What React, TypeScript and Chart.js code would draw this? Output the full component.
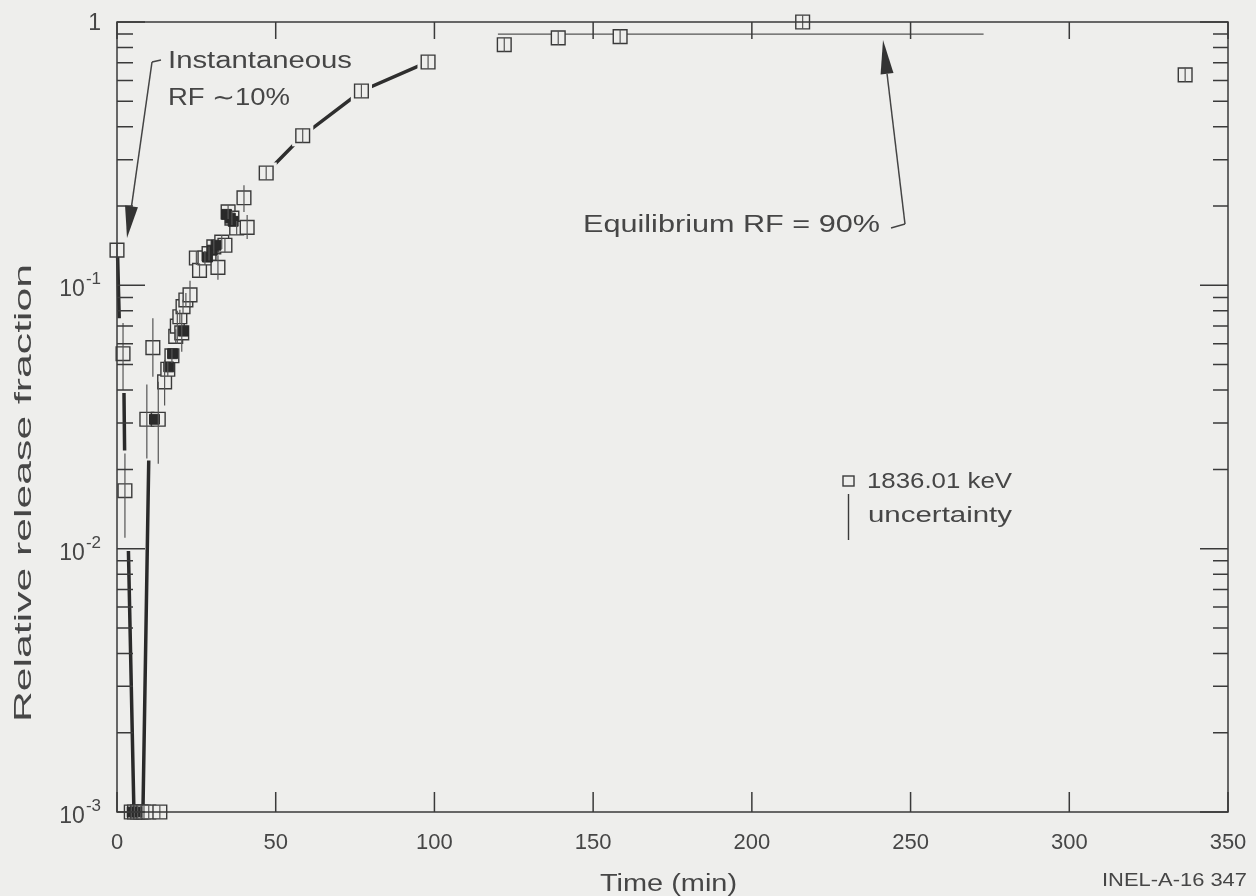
import React, { useEffect, useRef } from 'react';
import { Chart, registerables } from 'chart.js';
Chart.register(...registerables);

// ---- data ----
const xTickValues = [0, 50, 100, 150, 200, 250, 300, 350];
const yDecades = [0.001, 0.01, 0.1, 1];
const yTickBase = ['10', '10', '10', '1'];
const yTickExp = ['-3', '-2', '-1', ''];

// measured points (1836.01 keV), time in min, relative release fraction
const sqT = [0, 1.9, 2.5, 4.5, 5.5, 6.5, 7.5, 8.5, 10, 13.5, 9.4, 11.3, 13, 15, 16, 17.3, 18.5, 19, 19.8, 20.4, 20.8, 21.7, 23, 25, 26, 27.7, 29, 30.5, 31.8, 33, 34, 35, 36.2, 37.7, 40, 41, 47, 58.5, 77, 98, 122, 139, 158.5, 216, 336.5];
const sqV = [0.136, 0.055, 0.0166, 0.001, 0.001, 0.001, 0.001, 0.001, 0.001, 0.001, 0.031, 0.058, 0.031, 0.043, 0.048, 0.054, 0.064, 0.07, 0.076, 0.066, 0.083, 0.088, 0.092, 0.127, 0.114, 0.127, 0.132, 0.14, 0.117, 0.146, 0.142, 0.19, 0.18, 0.165, 0.215, 0.166, 0.267, 0.37, 0.547, 0.705, 0.82, 0.87, 0.88, 1.0, 0.63];
const sqLo = [null, 0.04, 0.011, null, null, null, null, null, null, null, 0.022, 0.045, 0.021, 0.035, null, null, null, 0.06, null, 0.056, null, null, 0.082, null, null, null, null, null, 0.105, null, null, null, null, null, 0.19, 0.15, null, null, null, null, null, null, null, null, null];
const sqHi = [null, 0.072, 0.023, null, null, null, null, null, null, null, 0.042, 0.075, 0.043, 0.052, null, null, null, 0.08, null, 0.078, null, null, 0.104, null, null, null, null, null, 0.13, null, null, null, null, null, 0.24, 0.185, null, null, null, null, null, null, null, null, null];

// overlapping (dark) clusters of points
const blobT = [4.8, 6.2, 11.8, 16.3, 17.5, 20.9, 28.5, 30, 31.2, 34.5, 35.7, 36.6];
const blobV = [0.001, 0.001, 0.031, 0.049, 0.055, 0.067, 0.128, 0.136, 0.142, 0.186, 0.18, 0.175];

// heavy early trace segments (gaps = null)
const curveT = [0.2, 0.7, 1.2, 2.2, 2.4, 3, 3.6, 5.3, 6.5, 8.2, 10];
const curveV = [0.128, 0.075, null, 0.039, 0.0236, null, 0.0098, 0.00105, null, 0.00105, 0.0216];

// fitted rise
const fitT = [47, 58.5, 77, 98];
const fitV = [0.267, 0.37, 0.547, 0.705];

// equilibrium RF line
const eqT = [120, 273];
const eqV = [0.9, 0.9];

const BG = '#eeeeec';
const INK = '#3a3a3a';
const TXT = '#464646';
const FONT = '"Liberation Sans", Arial, Helvetica, sans-serif';

function pts(xs: number[], ys: (number | null)[]) {
  return xs.map((x, i) => ({ x, y: ys[i] }));
}

function stretchText(ctx: CanvasRenderingContext2D, text: string, x: number, y: number, size: number, width?: number) {
  ctx.save();
  ctx.font = `${size}px ${FONT}`;
  ctx.textAlign = 'left';
  ctx.textBaseline = 'alphabetic';
  const w = ctx.measureText(text).width;
  const sx = width ? width / w : 1;
  ctx.translate(x, y);
  ctx.scale(sx, 1);
  ctx.fillText(text, 0, 0);
  ctx.restore();
}

function arrow(ctx: CanvasRenderingContext2D, x1: number, y1: number, x2: number, y2: number, hl: number, hw: number) {
  const dx = x2 - x1, dy = y2 - y1;
  const L = Math.hypot(dx, dy);
  const ux = dx / L, uy = dy / L;
  const bx = x2 - ux * hl, by = y2 - uy * hl;
  ctx.beginPath();
  ctx.moveTo(x1, y1);
  ctx.lineTo(bx, by);
  ctx.stroke();
  ctx.beginPath();
  ctx.moveTo(x2, y2);
  ctx.lineTo(bx - uy * hw, by + ux * hw);
  ctx.lineTo(bx + uy * hw, by - ux * hw);
  ctx.closePath();
  ctx.fill();
}

const decorPlugin = {
  id: 'decor',
  beforeDraw(chart: any) {
    const ctx = chart.ctx;
    ctx.save();
    ctx.fillStyle = BG;
    ctx.fillRect(0, 0, chart.width, chart.height);
    ctx.restore();
  },
  afterDatasetsDraw(chart: any) {
    const ctx: CanvasRenderingContext2D = chart.ctx;
    const xs = chart.scales.x, ys = chart.scales.y;
    const a = chart.chartArea;
    ctx.save();

    // error bars / square centre lines
    ctx.strokeStyle = '#555';
    ctx.lineWidth = 1.2;
    for (let i = 0; i < sqT.length; i++) {
      const px = xs.getPixelForValue(sqT[i]);
      const py = ys.getPixelForValue(sqV[i]);
      let top = py - 7, bot = py + 7;
      if (sqHi[i] != null) top = Math.min(top, ys.getPixelForValue(sqHi[i] as number));
      if (sqLo[i] != null) bot = Math.max(bot, ys.getPixelForValue(sqLo[i] as number));
      ctx.beginPath();
      ctx.moveTo(px, top);
      ctx.lineTo(px, bot);
      ctx.stroke();
    }

    // frame
    ctx.strokeStyle = INK;
    ctx.lineWidth = 1.5;
    ctx.strokeRect(a.left, a.top, a.right - a.left, a.bottom - a.top);

    // x ticks (inward, bottom and top)
    for (const v of xTickValues) {
      const px = xs.getPixelForValue(v);
      ctx.beginPath();
      ctx.moveTo(px, a.bottom);
      ctx.lineTo(px, a.bottom - 20);
      ctx.moveTo(px, a.top);
      ctx.lineTo(px, a.top + 17);
      ctx.stroke();
    }
    // y ticks (inward, left and right)
    for (let d = 0; d < yDecades.length; d++) {
      const dec = yDecades[d];
      const py = ys.getPixelForValue(dec);
      ctx.beginPath();
      ctx.moveTo(a.left, py);
      ctx.lineTo(a.left + 28, py);
      ctx.moveTo(a.right, py);
      ctx.lineTo(a.right - 28, py);
      ctx.stroke();
      if (d < yDecades.length - 1) {
        for (let m = 2; m <= 9; m++) {
          const pm = ys.getPixelForValue(dec * m);
          ctx.beginPath();
          ctx.moveTo(a.left, pm);
          ctx.lineTo(a.left + 16, pm);
          ctx.moveTo(a.right, pm);
          ctx.lineTo(a.right - 15, pm);
          ctx.stroke();
        }
      }
    }

    // y tick labels with superscripts
    ctx.fillStyle = TXT;
    for (let d = 0; d < yDecades.length; d++) {
      const py = ys.getPixelForValue(yDecades[d]);
      const right = a.left - 16;
      ctx.textBaseline = 'alphabetic';
      if (yTickExp[d]) {
        ctx.font = `17px ${FONT}`;
        ctx.textAlign = 'right';
        ctx.fillText(yTickExp[d], right, py - 1);
        const ew = ctx.measureText(yTickExp[d]).width;
        ctx.font = `23px ${FONT}`;
        ctx.fillText(yTickBase[d], right - ew - 1, py + 11);
      } else {
        ctx.font = `23px ${FONT}`;
        ctx.textAlign = 'right';
        ctx.fillText(yTickBase[d], right, py + 8);
      }
    }

    // axis titles
    stretchText(ctx, 'Time (min)', 600, 891, 23, 137);
    ctx.save();
    ctx.translate(31, 722);
    ctx.rotate(-Math.PI / 2);
    stretchText(ctx, 'Relative release fraction', 0, 0, 24, 458);
    ctx.restore();
    stretchText(ctx, 'INEL-A-16 347', 1102, 886, 19, 145);

    // annotations
    stretchText(ctx, 'Instantaneous', 168, 68, 23, 184);
    stretchText(ctx, 'RF \u223C10%', 168, 105, 23, 122);
    stretchText(ctx, 'Equilibrium RF = 90%', 583, 232, 23, 297);

    ctx.strokeStyle = '#444';
    ctx.fillStyle = '#333';
    ctx.lineWidth = 1.5;
    ctx.beginPath();
    ctx.moveTo(161, 60);
    ctx.lineTo(152, 62);
    ctx.stroke();
    arrow(ctx, 152, 62, 127, 238, 32, 6.5);
    ctx.beginPath();
    ctx.moveTo(891, 228);
    ctx.lineTo(905, 224);
    ctx.stroke();
    arrow(ctx, 905, 224, 883, 40, 34, 6.5);

    // legend
    ctx.strokeStyle = INK;
    ctx.lineWidth = 1.4;
    ctx.fillStyle = BG;
    ctx.fillRect(843, 476, 11, 10);
    ctx.strokeRect(843, 476, 11, 10);
    ctx.beginPath();
    ctx.moveTo(848.5, 494);
    ctx.lineTo(848.5, 540);
    ctx.stroke();
    ctx.fillStyle = TXT;
    stretchText(ctx, '1836.01 keV', 867, 488, 22, 145);
    stretchText(ctx, 'uncertainty', 868, 522, 22, 144);

    ctx.restore();
  },
};

export default function App() {
  const ref = useRef<HTMLCanvasElement | null>(null);
  useEffect(() => {
    document.body.style.margin = '0';
    document.body.style.background = BG;
    const canvas = ref.current!;
    const chart = new Chart(canvas, {
      type: 'scatter',
      data: {
        datasets: [
          {
            label: 'clusters',
            data: pts(blobT, blobV),
            pointStyle: 'rect',
            pointRadius: 7,
            backgroundColor: '#2a2a2a',
            borderColor: '#2a2a2a',
            borderWidth: 1,
            showLine: false,
            clip: false,
          },
          {
            label: '1836.01 keV',
            data: pts(sqT, sqV),
            pointStyle: 'rect',
            pointRadius: 9.7,
            backgroundColor: BG,
            borderColor: INK,
            borderWidth: 1.4,
            showLine: false,
            clip: false,
          },
          {
            label: 'gap',
            data: pts(fitT, fitV),
            pointStyle: 'rect',
            pointRadius: 15,
            backgroundColor: BG,
            borderWidth: 0,
            borderColor: BG,
            showLine: false,
            clip: false,
          },
          {
            label: 'fit',
            data: pts(fitT, fitV),
            showLine: true,
            borderColor: '#2e2e2e',
            borderWidth: 3.5,
            pointRadius: 0,
          },
          {
            label: 'early trace',
            data: pts(curveT, curveV),
            showLine: true,
            spanGaps: false,
            borderColor: '#2a2a2a',
            borderWidth: 3.5,
            pointRadius: 0,
            clip: false,
          },
          {
            label: 'equilibrium',
            data: pts(eqT, eqV),
            showLine: true,
            borderColor: '#555',
            borderWidth: 1.3,
            pointRadius: 0,
          },
        ],
      },
      options: {
        animation: false,
        responsive: false,
        devicePixelRatio: 1,
        layout: { padding: { top: 22, right: 28, left: 0, bottom: 0 } },
        plugins: { legend: { display: false }, tooltip: { enabled: false } },
        scales: {
          x: {
            type: 'linear',
            position: 'bottom',
            min: 0,
            max: 350,
            grid: { display: false, drawTicks: false },
            border: { display: false },
            ticks: {
              stepSize: 50,
              autoSkip: false,
              maxRotation: 0,
              padding: 18,
              color: TXT,
              font: { family: FONT, size: 22 },
            },
            afterFit: (s: any) => {
              s.height = 84;
              s.paddingLeft = 0;
              s.paddingRight = 0;
            },
          },
          y: {
            type: 'logarithmic',
            min: 0.001,
            max: 1,
            grid: { display: false, drawTicks: false },
            border: { display: false },
            ticks: { display: false },
            afterFit: (s: any) => {
              s.width = 117;
              s.paddingTop = 0;
              s.paddingBottom = 0;
            },
          },
        },
      },
      plugins: [decorPlugin],
    } as any);
    return () => chart.destroy();
  }, []);
  return (
    <div style={{ position: 'absolute', left: 0, top: 0, width: 1256, height: 896, background: BG }}>
      <canvas ref={ref} width={1256} height={896} style={{ display: 'block' }} />
    </div>
  );
}
